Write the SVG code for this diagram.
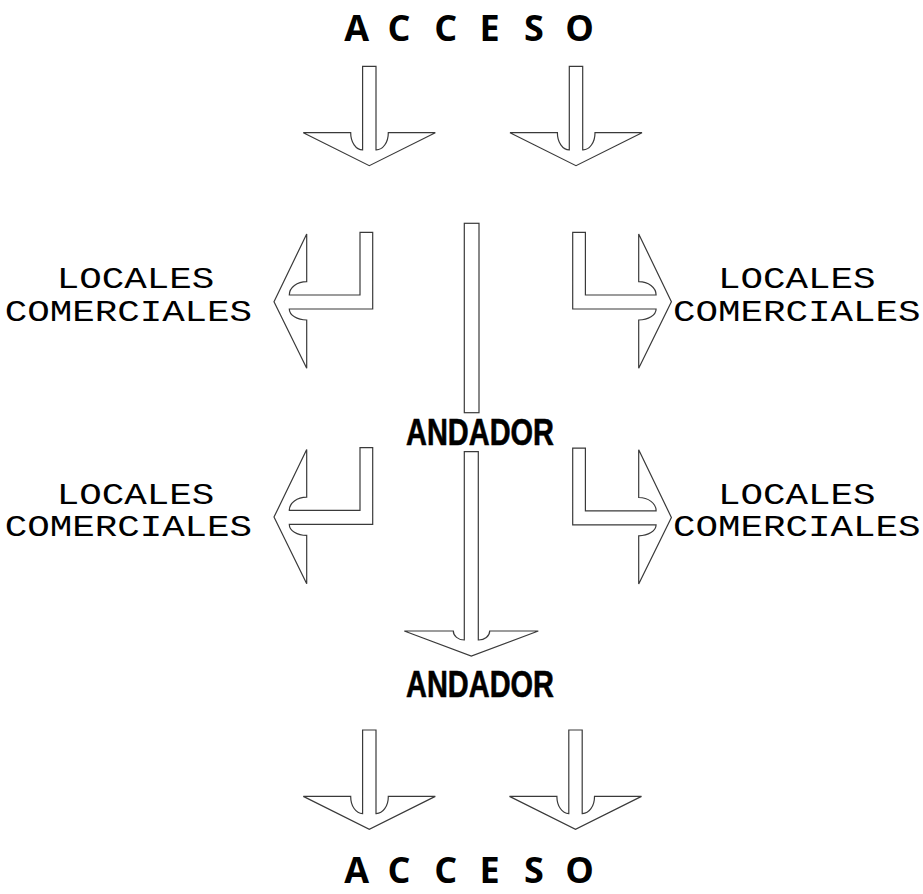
<svg xmlns="http://www.w3.org/2000/svg" width="923" height="894" viewBox="0 0 923 894">
<style>
.ar{fill:#fff;stroke:#3a3a3a;stroke-width:1.2;stroke-linejoin:miter}
.acc{font-family:"Open Sans","DejaVu Sans",sans-serif;font-weight:bold;font-size:36px;fill:#000;text-anchor:middle}
.and{font-family:"Liberation Sans",Arial,sans-serif;font-weight:bold;font-size:37px;fill:#000;stroke:#000;stroke-width:0.6}
.loc{font-family:"Liberation Mono","Courier New",monospace;font-size:37.5px;fill:#000}
</style>
<defs>
<path id="down" d="M -6.7,0 H 6.7 V 83.6 A 12 17 0 0 0 19,66.4 H 66 L 0,99.4 L -66,66.4 H -18.6 A 12 17 0 0 0 -6.7,83.6 Z"/>
<path id="lft" d="M 360,232.3 H 372.7 V 309 H 289.3 A 17.4 11 0 0 0 306.7,320 V 368.3 L 274,301.7 L 306.7,234 V 281.7 A 17.4 13.3 0 0 0 289.3,295 H 360 Z"/>
</defs>
<g id="acceso-top"><text class="acc" y="40.7"><tspan x="356.7">A</tspan><tspan x="399">C</tspan><tspan x="445.8">C</tspan><tspan x="489.5">E</tspan><tspan x="534">S</tspan><tspan x="579.7">O</tspan></text></g>
<g id="acceso-bottom"><text class="acc" y="883"><tspan x="356.7">A</tspan><tspan x="399">C</tspan><tspan x="445.8">C</tspan><tspan x="489.5">E</tspan><tspan x="534">S</tspan><tspan x="579.7">O</tspan></text></g>
<g id="andador-1"><text class="and" x="406" y="445" textLength="148" lengthAdjust="spacingAndGlyphs">ANDADOR</text></g>
<g id="andador-2"><text class="and" x="406" y="696.7" textLength="148" lengthAdjust="spacingAndGlyphs">ANDADOR</text></g>
<g id="locales-ul">
<text class="loc" transform="matrix(1 0 0 0.8 0 288.3)" x="56.8" y="0">LOCALES</text>
<text class="loc" transform="matrix(1 0 0 0.8 0 320.7)" x="4.7" y="0">COMERCIALES</text>
</g>
<g id="locales-ur">
<text class="loc" transform="matrix(1 0 0 0.8 0 288.3)" x="718" y="0">LOCALES</text>
<text class="loc" transform="matrix(1 0 0 0.8 0 320.7)" x="673" y="0">COMERCIALES</text>
</g>
<g id="locales-ll">
<text class="loc" transform="matrix(1 0 0 0.8 0 504)" x="56.8" y="0">LOCALES</text>
<text class="loc" transform="matrix(1 0 0 0.8 0 536.3)" x="4.7" y="0">COMERCIALES</text>
</g>
<g id="locales-lr">
<text class="loc" transform="matrix(1 0 0 0.8 0 504)" x="718" y="0">LOCALES</text>
<text class="loc" transform="matrix(1 0 0 0.8 0 536.3)" x="673" y="0">COMERCIALES</text>
</g>
<g id="connectors">
<use href="#down" class="ar" transform="translate(369.3,66.3)"/>
<use href="#down" class="ar" transform="translate(576,66.3)"/>
<use href="#down" class="ar" transform="translate(369.3,730)"/>
<use href="#down" class="ar" transform="translate(575.5,730)"/>
<rect class="ar" x="464.3" y="223.3" width="14.7" height="189.4"/>
<path class="ar" d="M 464.3,451.7 H 478.3 V 640 A 11 9 0 0 0 489.7,631 H 538.3 L 471.3,656 L 404.3,631 H 453.3 A 11 9 0 0 0 464.3,640 Z"/>
<use href="#lft" class="ar"/>
<use href="#lft" class="ar" transform="translate(0,215.4)"/>
<use href="#lft" class="ar" transform="translate(945.4,0) scale(-1,1)"/>
<use href="#lft" class="ar" transform="translate(945.4,215.8) scale(-1,1)"/>
</g>
</svg>
